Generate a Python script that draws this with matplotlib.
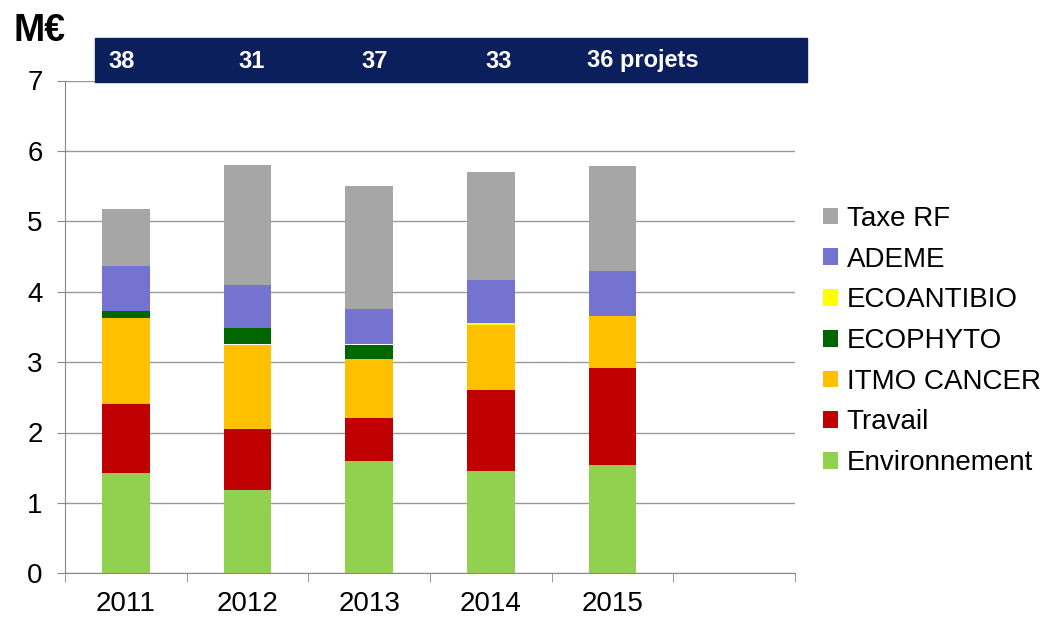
import matplotlib.pyplot as plt
import numpy as np

years = ['2011', '2012', '2013', '2014', '2015', '']
projects = ['38', '31', '37', '33', '36 projets']

# values in M€, stacked bottom -> top
environnement = [1.42, 1.19, 1.59, 1.45, 1.54, 0]
travail = [0.98, 0.86, 0.61, 1.16, 1.38, 0]
itmo_cancer = [1.23, 1.20, 0.84, 0.91, 0.74, 0]
ecophyto = [0.09, 0.24, 0.21, 0.0, 0.0, 0]
ecoantibio = [0.0, 0.0, 0.0, 0.04, 0.0, 0]
ademe = [0.64, 0.61, 0.50, 0.61, 0.64, 0]
taxe_rf = [0.82, 1.70, 1.75, 1.53, 1.49, 0]

series = [
    ('Environnement', environnement, '#92d050'),
    ('Travail', travail, '#c00000'),
    ('ITMO CANCER', itmo_cancer, '#ffc000'),
    ('ECOPHYTO', ecophyto, '#006600'),
    ('ECOANTIBIO', ecoantibio, '#ffff00'),
    ('ADEME', ademe, '#7473d0'),
    ('Taxe RF', taxe_rf, '#a6a6a6'),
]

plt.rcParams['font.family'] = ['Liberation Sans', 'DejaVu Sans']

W, H = 1050, 620
fig = plt.figure(figsize=(W / 100, H / 100), dpi=100)
ax = fig.add_axes([65 / W, 1 - 573.3 / H, (795 - 65) / W, (573.3 - 80.5) / H])

x = np.arange(len(years))
bottom = np.zeros(len(years))
handles = []
for name, vals, col in series:
    b = ax.bar(x, vals, width=0.39, bottom=bottom, color=col, label=name,
               linewidth=0, zorder=3)
    handles.append(b)
    bottom += np.array(vals)

ax.set_xlim(-0.5, len(years) - 0.5)
ax.set_ylim(0, 7)
ax.set_yticks(range(0, 8))
ax.set_xticks(x[:5])
ax.set_xticklabels(years[:5])
ax.set_xticks(np.arange(-0.5, len(years)), minor=True)
ax.tick_params(axis='x', which='major', length=0, labelsize=20, pad=13)
ax.tick_params(axis='x', which='minor', length=6.5, color='#888888', direction='out')
ax.tick_params(axis='y', length=6, color='#888888', labelsize=20, pad=10)
ax.grid(axis='y', color='#999999', linewidth=1, zorder=0)
for s in ['top', 'right']:
    ax.spines[s].set_visible(False)
for s in ['left', 'bottom']:
    ax.spines[s].set_color('#888888')

# legend: top series first
leg = ax.legend(handles[::-1], [s[0] for s in series][::-1],
                loc='center left', bbox_to_anchor=(823 / W, 1 - 341 / H),
                bbox_transform=fig.transFigure, frameon=False, borderpad=0,
                borderaxespad=0, fontsize=20, handlelength=0.55, handleheight=0.55,
                labelspacing=0.53, handletextpad=0.3)

# project count banner
fig.patches.append(plt.Rectangle((95 / W, 1 - 81.7 / H), (807 - 95) / W, 43.4 / H,
                                 transform=fig.transFigure, color='#0b1f5c', zorder=0))
text_x = [108, 238, 361, 485, 587]
for px, t in zip(text_x, projects):
    fig.text(px / W, 1 - 61 / H, t, color='white', fontsize=17, fontweight='bold',
             ha='left', va='center')

fig.text(13 / W, 1 - 31 / H, 'M€', fontsize=27, fontweight='bold', ha='left', va='center')

fig.savefig('out.png', dpi=100)
